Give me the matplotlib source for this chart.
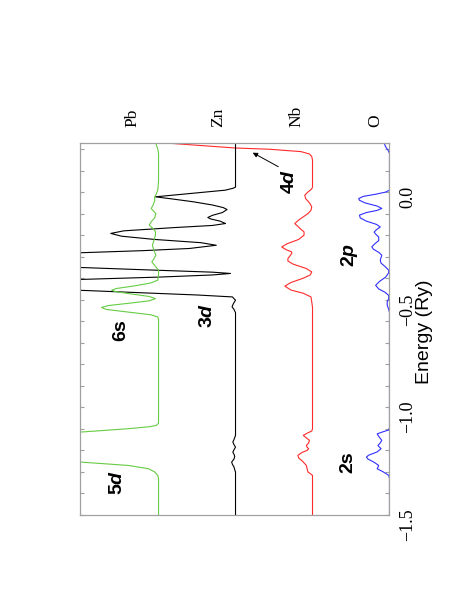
import matplotlib
matplotlib.use("Agg")
import matplotlib.pyplot as plt
from matplotlib.ticker import MultipleLocator

# ---------------- data (energy in Ry, DOS in arbitrary units) ----------------
elements = ["O", "Nb", "Zn", "Pb"]
offsets = [0.0, 1.0, 2.0, 3.0]
colors = ["#3030ff", "#ff2a2a", "#000000", "#66cc44"]

o_energy = [-1.5, -1.33, -1.316, -1.30, -1.285, -1.278, -1.27, -1.255, -1.24, -1.231,
            -1.222, -1.207, -1.192, -1.185, -1.177, -1.165, -1.153, -1.14, -1.123, -1.113,
            -1.105, -1.095, -0.58, -0.56, -0.545, -0.525, -0.51, -0.495, -0.48, -0.465,
            -0.45, -0.433, -0.415, -0.395, -0.375, -0.363, -0.345, -0.33, -0.316, -0.305,
            -0.293, -0.28, -0.265, -0.254, -0.24, -0.225, -0.209, -0.195, -0.186, -0.175,
            -0.162, -0.15, -0.135, -0.12, -0.107, -0.095, -0.085, -0.076, -0.065, -0.05,
            -0.038, -0.03, -0.02, -0.01, 0.0, 0.009, 0.18, 0.195, 0.21, 0.228, 0.24]
o_dos = [0, 0, 0.01, 0.08, 0.16, 0.15, 0.14, 0.20, 0.28, 0.30,
         0.27, 0.16, 0.11, 0.13, 0.15, 0.12, 0.10, 0.13, 0.16, 0.08,
         0.01, 0, 0, 0, 0.01, 0.03, 0.03, 0.01, 0.01, 0.06,
         0.14, 0.18, 0.13, 0.05, 0.01, 0.01, 0.06, 0.11, 0.12, 0.11,
         0.10, 0.14, 0.21, 0.23, 0.19, 0.14, 0.14, 0.18, 0.20, 0.17,
         0.12, 0.17, 0.30, 0.38, 0.39, 0.30, 0.16, 0.10, 0.16, 0.32,
         0.39, 0.40, 0.34, 0.18, 0.05, 0, 0, 0.02, 0.05, 0.07, 0.08]

nb_energy = [-1.5, -1.316, -1.305, -1.30, -1.285, -1.27, -1.25, -1.235, -1.223, -1.21,
             -1.20, -1.192, -1.185, -1.177, -1.165, -1.153, -1.142, -1.13, -1.12, -1.11,
             -1.10, -0.545, -0.535, -0.51, -0.487, -0.47, -0.455, -0.437, -0.42, -0.40,
             -0.385, -0.371, -0.355, -0.335, -0.32, -0.309, -0.295, -0.285, -0.278, -0.268,
             -0.255, -0.24, -0.22, -0.20, -0.185, -0.17, -0.146, -0.13, -0.10, -0.085,
             -0.068, -0.05, -0.03, -0.014, 0.0, 0.015, 0.023, 0.149, 0.165, 0.177,
             0.188, 0.199, 0.205, 0.215, 0.226, 0.24]
nb_dos = [0, 0, 0.04, 0.06, 0.07, 0.08, 0.13, 0.18, 0.19, 0.14,
          0.07, 0.05, 0.07, 0.08, 0.05, 0.04, 0.08, 0.12, 0.07, 0.01,
          0, 0, 0, 0.01, 0.02, 0.12, 0.28, 0.36, 0.28, 0.12,
          0.03, 0.01, 0.08, 0.25, 0.32, 0.32, 0.29, 0.27, 0.27, 0.34,
          0.40, 0.33, 0.18, 0.11, 0.11, 0.16, 0.23, 0.18, 0.06, 0.02,
          0.01, 0.04, 0.09, 0.10, 0.06, 0.01, 0, 0, 0.01, 0.04,
          0.15, 0.56, 1.01, 1.40, 1.83, 2.30]

zn_energy = [-1.5, -1.30, -1.29, -1.277, -1.265, -1.254, -1.24, -1.228, -1.218, -1.208,
             -1.197, -1.185, -1.173, -1.161, -1.15, -1.14, -1.13, -0.56, -0.545, -0.533,
             -0.52, -0.502, -0.495, -0.487, -0.478, -0.468, -0.456, -0.43, -0.406, -0.395,
             -0.385, -0.378, -0.372, -0.362, -0.35, -0.315, -0.282, -0.272, -0.262, -0.247,
             -0.235, -0.22, -0.205, -0.192, -0.18, -0.165, -0.155, -0.146, -0.135, -0.125,
             -0.118, -0.108, -0.095, -0.081, -0.072, -0.06, -0.045, -0.032, -0.022, 0.009,
             0.018, 0.023, 0.24]
zn_dos = [0, 0, 0.01, 0.02, 0.04, 0.05, 0.02, 0.01, 0.02, 0.035,
          0.02, 0.0, 0.02, 0.035, 0.02, 0.01, 0, 0, 0.02, 0.045,
          0.03, 0, 0.02, 0.04, 0.5, 1.2, 2.03, 5.0, 2.03, 1.0,
          0.3, 0.065, 0.3, 1.1, 2.03, 5.0, 2.03, 1.2, 0.6, 0.25,
          0.45, 1.05, 1.48, 1.62, 1.45, 0.8, 0.3, 0.13, 0.2, 0.32,
          0.36, 0.3, 0.17, 0.11, 0.16, 0.3, 0.55, 0.82, 1.04, 0.13,
          0.03, 0, 0]

pb_energy = [-1.5, -1.33, -1.316, -1.30, -1.285, -1.27, -1.262, -1.254, -1.24, -1.13,
             -1.115, -1.107, -1.099, -1.09, -1.084, -1.074, -0.59, -0.58, -0.57, -0.555,
             -0.545, -0.536, -0.527, -0.515, -0.505, -0.495, -0.485, -0.472, -0.462, -0.456,
             -0.448, -0.435, -0.422, -0.409, -0.385, -0.363, -0.345, -0.324, -0.31, -0.293,
             -0.27, -0.247, -0.225, -0.20, -0.184, -0.17, -0.153, -0.135, -0.12, -0.10,
             -0.09, -0.076, -0.06, -0.04, -0.022, -0.01, 0.009, 0.05, 0.18, 0.20,
             0.215, 0.228, 0.24]
pb_dos = [0, 0, 0.01, 0.05, 0.13, 0.39, 0.7, 1.02, 3.0, 3.0,
          1.02, 0.7, 0.39, 0.12, 0.03, 0, 0, 0.01, 0.1, 0.45,
          0.68, 0.74, 0.65, 0.35, 0.12, 0.04, 0.12, 0.38, 0.56, 0.61,
          0.55, 0.3, 0.1, 0.01, 0.0, 0.0, 0.04, 0.087, 0.06, 0.035,
          0.06, 0.08, 0.06, 0.04, 0.04, 0.07, 0.12, 0.09, 0.05, 0.035,
          0.06, 0.095, 0.07, 0.05, 0.05, 0.03, 0.01, 0.0, 0.0, 0.01,
          0.025, 0.035, 0.045]

energies = [o_energy, nb_energy, zn_energy, pb_energy]
doses = [o_dos, nb_dos, zn_dos, pb_dos]

orbital_labels = [r"$\mathbf{4}\mathbfit{d}$", r"$\mathbf{2}\mathbfit{p}$", "2s",
                  "6s", r"$\mathbf{3}\mathbfit{d}$", r"$\mathbf{5}\mathbfit{d}$"]
y_tick_step = 0.5
y_minor_step = 0.1
x_label = "Energy (Ry)"

# ---------------- figure ----------------
plt.rcParams["mathtext.fontset"] = "custom"
plt.rcParams["mathtext.bf"] = "Liberation Sans:bold"
plt.rcParams["mathtext.rm"] = "Liberation Sans"
plt.rcParams["mathtext.it"] = "Liberation Sans:italic"
plt.rcParams["mathtext.bfit"] = "Liberation Sans:italic:bold"

W, H = 471, 609
fig = plt.figure(figsize=(W / 100, H / 100), dpi=100)
L, R, T, B = 80, 389.5, 143, 515
ax = fig.add_axes([L / W, (H - B) / H, (R - L) / W, (B - T) / H])


def axfrac(px, py):
    return ((px - L) / (R - L), (B - py) / (B - T))


for off, e, d, c in zip(offsets, energies, doses, colors):
    ax.plot([off + v for v in d], e, color=c, lw=0.8)

ax.set_xlim(4.02, 0)
ax.set_ylim(-1.5, 0.228)
ax.set_xticks([])
ax.yaxis.set_major_locator(MultipleLocator(y_tick_step))
ax.yaxis.set_minor_locator(MultipleLocator(y_minor_step))
ax.tick_params(axis="y", which="both", direction="in", left=True, right=True,
               labelleft=False, labelright=True, length=3, width=0.8,
               color="#a0a0a0", labelrotation=90, pad=7)
for lab in ax.get_yticklabels():
    lab.set_fontfamily("Liberation Serif")
    lab.set_fontsize(13)
for s in ax.spines.values():
    s.set_color("#a0a0a0")
    s.set_linewidth(0.9)

# axis title
fx, fy = axfrac(425, 332)
ax.text(fx, fy, x_label, transform=ax.transAxes, rotation=90, ha="center", va="center",
        fontsize=14, family="Liberation Sans")

# element labels
elem_px = [375, 296, 218, 132]
for name, px in zip(elements, elem_px):
    fx, fy = axfrac(px, 127)
    ax.text(fx, fy, name, transform=ax.transAxes, rotation=90, ha="center", va="bottom",
            fontsize=12.5, family="Liberation Serif", clip_on=False)

# orbital labels
orb_pos = [(289, 181), (350, 255), (348, 462), (121, 330), (207, 315), (118, 482)]
for txt, (px, py) in zip(orbital_labels, orb_pos):
    fx, fy = axfrac(px, py)
    ax.text(fx, fy, txt, transform=ax.transAxes, rotation=90, ha="center", va="center",
            fontsize=14, family="Liberation Sans", fontweight="bold")

# arrow for 4d
ax.annotate("", xy=axfrac(252.7, 152.7), xytext=axfrac(278.3, 166.7),
            xycoords="axes fraction", textcoords="axes fraction",
            arrowprops=dict(arrowstyle="-|>", color="k", lw=0.7, mutation_scale=7,
                            shrinkA=0, shrinkB=0))

fig.savefig("out.png", dpi=100)
